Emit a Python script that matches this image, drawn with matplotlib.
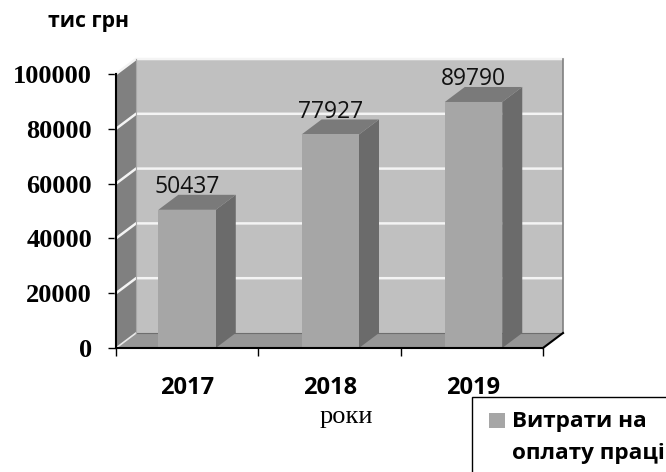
import matplotlib
matplotlib.use('Agg')
import matplotlib.pyplot as plt
from matplotlib.patches import Polygon, Rectangle

# Chart data
years = ['2017', '2018', '2019']
costs = [50437, 77927, 89790]
y_ticks = [0, 20000, 40000, 60000, 80000, 100000]
unit_label = 'тис грн'
x_label = 'роки'
legend_lines = ['Витрати на', 'оплату праці']

W, H = 666, 472
LEFT, RIGHT, TOP, BOTTOM = 116, 543, 74, 348

# Colours for the fake 3D box
WALL = '#c0c0c0'
SIDE_WALL = '#808080'
FLOOR = '#969696'
BAR_FRONT = '#a6a6a6'
BAR_SIDE = '#6b6b6b'
BAR_TOP = '#7a7a7a'
BAR_WIDTH = 0.401

SANS = 'Open Sans'
SERIF = 'Liberation Serif'

fig = plt.figure(figsize=(W / 100, H / 100), dpi=100)
ax = fig.add_axes([LEFT / W, 1 - BOTTOM / H, (RIGHT - LEFT) / W, (BOTTOM - TOP) / H])
ax.set_xlim(-0.496, 2.485)
ax.set_ylim(0, 100000)
ax.patch.set_visible(False)

x0, x1 = ax.get_xlim()
y1 = ax.get_ylim()[1]

# Depth of the box in data units (20 px across, 15 px up)
dx = 20 / (RIGHT - LEFT) * (x1 - x0)
dy = 15 / (BOTTOM - TOP) * y1


def face(points, color, z, edge='none'):
    ax.add_patch(Polygon(points, closed=True, facecolor=color, edgecolor=edge,
                         linewidth=0.8, zorder=z, clip_on=False))


# Walls and floor
face([(x0 + dx, dy), (x1 + dx, dy), (x1 + dx, y1 + dy), (x0 + dx, y1 + dy)], WALL, 1)
face([(x0, 0), (x0 + dx, dy), (x0 + dx, y1 + dy), (x0, y1)], SIDE_WALL, 1)
face([(x0, 0), (x1, 0), (x1 + dx, dy), (x0 + dx, dy)], FLOOR, 1)

# Gridlines run along the back wall and down the side wall
for t in y_ticks[1:]:
    ax.plot([x0, x0 + dx, x1 + dx], [t, t + dy, t + dy], color='#f4f4f4', lw=1.8,
            zorder=2, clip_on=False, solid_joinstyle='miter')
ax.plot([x0, x0 + dx], [0, dy], color='#e8e8e8', lw=1.2, zorder=2, clip_on=False)
ax.plot([x0 + dx, x1 + dx], [dy, dy], color='#6e6e6e', lw=0.8, zorder=2, clip_on=False)
ax.plot([x0 + dx, x0 + dx], [dy, y1 + dy], color='#a8a8a8', lw=0.8, zorder=2, clip_on=False)
ax.plot([x1 + dx, x1 + dx], [dy, y1 + dy], color='#808080', lw=1.2, zorder=2, clip_on=False)
ax.plot([x1, x1 + dx], [0, dy], color='black', lw=1.5, zorder=5, clip_on=False)

# Bars with side and top faces
for i, v in enumerate(costs):
    a, b = i - BAR_WIDTH / 2, i + BAR_WIDTH / 2
    ax.bar(i, v, BAR_WIDTH, color=BAR_FRONT, zorder=4)
    face([(b, 0), (b + dx, dy), (b + dx, v + dy), (b, v)], BAR_SIDE, 3)
    face([(a, v), (b, v), (b + dx, v + dy), (a + dx, v + dy)], BAR_TOP, 3)
    ax.annotate(str(v), (i, v), xytext=(0, 12), textcoords='offset points',
                ha='center', va='baseline', fontsize=16.5, family=SANS,
                color='#111111', zorder=6)

# Axes
for side in ['top', 'right']:
    ax.spines[side].set_visible(False)
for side in ['left', 'bottom']:
    ax.spines[side].set_linewidth(1.5)
    ax.spines[side].set_zorder(5)

ax.set_yticks(y_ticks)
ax.set_yticklabels([str(t) for t in y_ticks], family=SERIF, fontweight='bold', fontsize=19)
ax.tick_params(axis='y', length=5.8, width=1, pad=11.5)

step = (x1 - x0) / 3
ax.set_xticks([x0, x0 + step, x0 + 2 * step, x1])
ax.set_xticklabels([])
ax.set_xticks([0, 1, 2], labels=years, minor=True, family=SANS, fontweight='bold', fontsize=17)
ax.tick_params(axis='x', which='major', length=6, width=1)
ax.tick_params(axis='x', which='minor', length=0, pad=20)

ax.set_xlabel(x_label, family=SERIF, fontsize=19, va='center')
ax.xaxis.set_label_coords(0.539, -0.25)

fig.text(48 / W, 1 - 22 / H, unit_label, family=SANS, fontweight='bold', fontsize=15.3, va='center')

# Legend box runs off the edge of the figure
fig.add_artist(Rectangle((472 / W, -0.02), 0.4, 1 - 397 / H + 0.02, transform=fig.transFigure,
                         facecolor='white', edgecolor='black', linewidth=1))
fig.add_artist(Rectangle((489 / W, 1 - 428 / H), 16 / W, 15 / H, transform=fig.transFigure,
                         facecolor=BAR_FRONT, edgecolor='none'))
for line, y in zip(legend_lines, [421, 453]):
    fig.text(512 / W, 1 - y / H, line, family=SANS, fontweight='bold', fontsize=16.2, va='center')

fig.savefig('out.png', dpi=100)
